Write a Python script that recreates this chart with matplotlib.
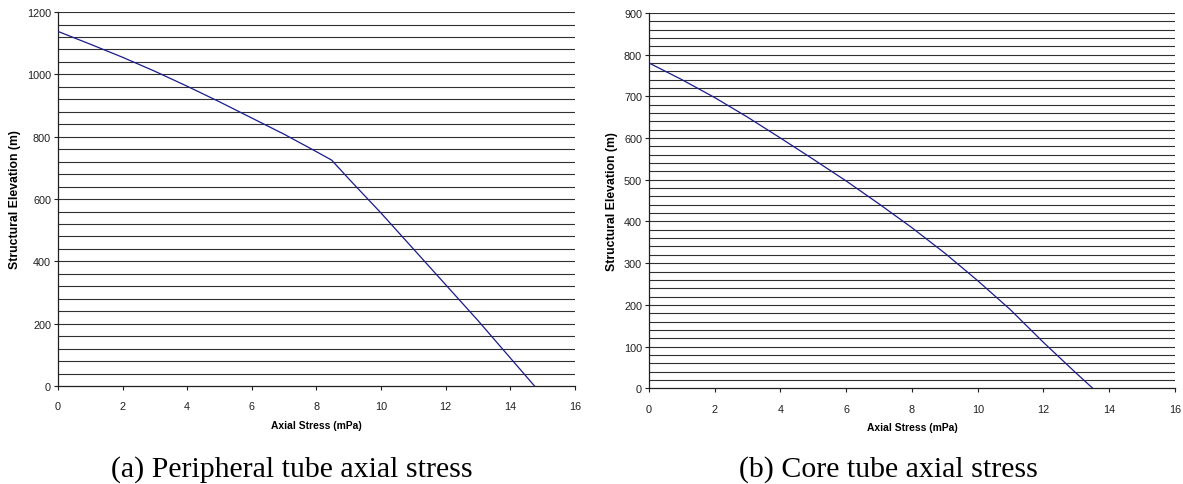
import matplotlib
matplotlib.use("Agg")
import matplotlib.pyplot as plt
import numpy as np

# Peripheral tube (a)
peri_stress = [0, 1, 2, 3, 4, 5, 6, 7, 8, 8.47, 9, 10, 11, 12, 13, 14, 14.75]
peri_elev = [1138, 1097, 1055, 1010, 962, 912, 860, 808, 752, 725, 665, 555, 440, 325, 210, 90, 0]

# Core tube (b)
core_stress = [0, 1, 2, 3, 4, 5, 6, 7, 8, 9, 10, 11, 12, 13, 13.5]
core_elev = [780, 740, 697, 650, 600, 549, 497, 442, 385, 324, 258, 188, 110, 36, 0]

x_ticks = [0, 2, 4, 6, 8, 10, 12, 14, 16]
peri_yticks = [0, 200, 400, 600, 800, 1000, 1200]
core_yticks = [0, 100, 200, 300, 400, 500, 600, 700, 800, 900]
peri_grid_step = 40
core_grid_step = 20

xlabel = "Axial Stress (mPa)"
ylabel = "Structural Elevation (m)"
captions = ["(a) Peripheral tube axial stress", "(b) Core tube axial stress"]

plt.rcParams['font.family'] = ['Liberation Sans', 'DejaVu Sans']

fig = plt.figure(figsize=(11.83, 4.85), dpi=100)
ax1 = fig.add_axes([0.049, 0.202, 0.437, 0.771])
ax2 = fig.add_axes([0.5486, 0.1973, 0.4446, 0.774])

def style(ax, xs, ys, yticks, ymax, step):
    for yv in np.arange(step, ymax + step / 2, step):
        ax.axhline(yv, color='#303030', lw=0.8, zorder=1)
    ax.plot(xs, ys, color='#1a1a8c', lw=0.9, zorder=3)
    ax.set_xlim(0, 16)
    ax.set_ylim(0, ymax)
    ax.set_xticks(x_ticks)
    ax.set_yticks(yticks)
    for s in ['top', 'right']:
        ax.spines[s].set_visible(False)
    for s in ['left', 'bottom']:
        ax.spines[s].set_color('#202020')
        ax.spines[s].set_linewidth(0.9)
    ax.tick_params(axis='both', direction='out', length=3, width=0.8,
                   labelsize=7.8, colors='#202020', pad=2)
    ax.tick_params(axis='x', pad=8)
    ax.set_xlabel(xlabel, fontsize=7.4, fontweight='bold', labelpad=6)
    ax.set_ylabel(ylabel, fontsize=8.8, fontweight='bold', labelpad=4)

style(ax1, peri_stress, peri_elev, peri_yticks, 1200, peri_grid_step)
style(ax2, core_stress, core_elev, core_yticks, 900, core_grid_step)

fig.text(292 / 1183, 1 - 470 / 485, captions[0], family='Liberation Serif',
         fontsize=21.5, ha='center', va='center')
fig.text(888 / 1183, 1 - 470 / 485, captions[1], family='Liberation Serif',
         fontsize=21.5, ha='center', va='center')

fig.savefig("out.png", dpi=100)
